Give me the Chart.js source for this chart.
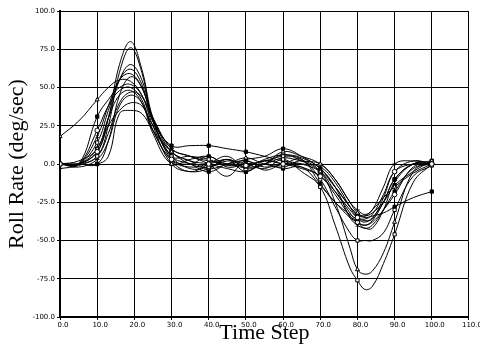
<!DOCTYPE html>
<html>
<head>
<meta charset="utf-8">
<script src="https://cdn.jsdelivr.net/npm/chart.js@4"></script>
<style>
html,body{margin:0;padding:0;background:#fff;}
#wrap{width:480px;height:350px;}
</style>
</head>
<body>
<div id="wrap"><canvas id="c" width="480" height="350"></canvas></div>
<script>
const timeSteps = [0,5,10,13,16,19,22,25,30,35,40,45,50,55,60,65,70,74,78,80,82,84,87,90,95,100];

const run1  = [0,0,8,30,65,80,62,30,3,-2,0,3,-1,2,0,-2,-8,-18,-30,-35,-36,-33,-20,-5,0,0];
const run2  = [0,0,5,25,60,76,60,28,5,-3,-2,2,0,-3,3,-5,-15,-40,-68,-76,-82,-80,-65,-46,-12,0];
const run3  = [0,2,10,30,55,65,55,30,8,2,-3,0,4,0,-2,2,-5,-25,-55,-69,-72,-70,-58,-38,-5,2];
const run4  = [0,0,14,35,55,62,52,28,5,5,3,-1,0,2,5,3,-10,-28,-45,-50,-50,-50,-45,-30,-8,-1];
const run5  = [0,0,18,38,55,59,50,30,10,5,2,0,-2,3,6,4,-3,-15,-35,-40,-42,-42,-30,-12,0,0];
const run6  = [18,28,42,50,55,54,45,25,0,-5,-3,3,-2,0,8,5,0,-10,-25,-32,-34,-30,-22,-15,-6,0];
const run7  = [0,0,0,15,45,57,50,28,5,0,-5,0,2,-2,0,3,-13,-25,-33,-36,-38,-35,-25,-10,0,0];
const run8  = [0,0,31,42,50,52,45,28,12,12,12,10,8,5,2,0,-5,-15,-28,-33,-34,-32,-25,-14,-5,2];
const run9  = [0,0,22,38,48,50,42,22,2,-5,0,5,-3,0,6,2,-5,-18,-32,-38,-40,-38,-30,-20,-2,0];
const run10 = [0,0,10,30,45,48,40,20,0,3,5,0,3,5,10,5,-3,-15,-28,-33,-35,-34,-32,-28,-22,-18];
const run11 = [0,-2,3,15,38,45,40,22,3,0,5,-2,0,0,4,2,0,-10,-25,-30,-33,-30,-15,0,2,0];
const run12 = [0,0,8,25,35,40,38,25,8,2,0,-3,-5,0,-3,-2,-14,-25,-35,-38,-40,-37,-25,-10,0,2];
const run13 = [0,0,0,5,33,35,33,22,8,0,-2,3,-5,2,0,-3,-8,-20,-34,-38,-42,-40,-30,-18,-3,0];
const run14 = [-3,-1,5,20,40,47,44,30,10,5,0,-8,2,-4,0,0,-2,-12,-28,-35,-37,-36,-22,-5,2,0];

const runs = [run1,run2,run3,run4,run5,run6,run7,run8,run9,run10,run11,run12,run13,run14];
const markerStyles = ['circle','rect','triangle','rect','crossRot','triangle','rect','rect','circle','rect','cross','rect','rect','cross'];
const markerFilled = [false,false,false,false,false,false,true,true,false,true,false,true,true,false];

const datasets = runs.map((vals, i) => ({
  data: timeSteps.map((t, j) => ({x: t, y: vals[j]})),
  borderColor: '#000',
  borderWidth: 1,
  tension: 0.4,
  fill: false,
  pointStyle: markerStyles[i],
  pointBackgroundColor: markerFilled[i] ? '#000' : '#fff',
  pointBorderColor: '#000',
  pointBorderWidth: 1,
  pointRadius: ctx => (ctx.raw && ctx.raw.x % 10 === 0 ? 2.3 : 0),
  pointHoverRadius: 0
}));

new Chart(document.getElementById('c'), {
  type: 'line',
  data: { datasets },
  options: {
    responsive: false,
    animation: false,
    events: [],
    layout: { padding: { left: 0, right: 10, top: 11, bottom: 0 } },
    plugins: { legend: { display: false }, tooltip: { enabled: false } },
    scales: {
      x: {
        type: 'linear', min: 0, max: 110,
        border: { color: '#000', width: 2 },
        grid: { color: '#000', lineWidth: 1, tickLength: 3 },
        ticks: { stepSize: 10, color: '#000', maxRotation: 0, autoSkip: false, padding: 1, labelOffset: 3,
                 font: { family: 'DejaVu Sans', size: 7 }, callback: v => v.toFixed(1) },
        title: { display: true, text: 'Time Step', color: '#000', padding: { top: 0, bottom: 4 },
                 font: { family: 'Liberation Serif', size: 22 } },
        afterFit: s => { s.height = 33; }
      },
      y: {
        type: 'linear', min: -100, max: 100,
        border: { color: '#000', width: 2 },
        grid: { color: '#000', lineWidth: 1, tickLength: 3 },
        ticks: { stepSize: 25, color: '#000', padding: 2,
                 font: { family: 'DejaVu Sans', size: 7 }, callback: v => v.toFixed(1) },
        title: { display: true, text: 'Roll Rate (deg/sec)', color: '#000', padding: { top: 4, bottom: 0 },
                 font: { family: 'Liberation Serif', size: 22 } },
        afterFit: s => { s.width = 60; }
      }
    }
  }
});
</script>
</body>
</html>
